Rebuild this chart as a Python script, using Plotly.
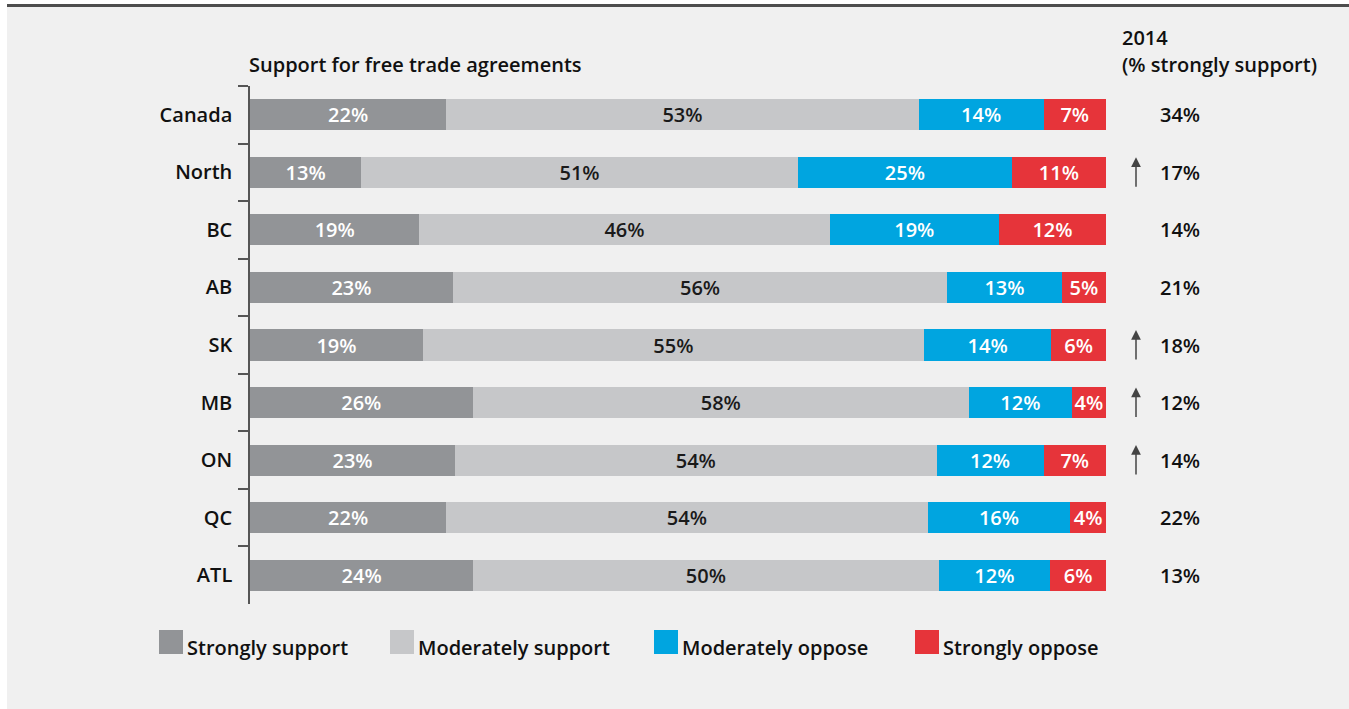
import plotly.graph_objects as go

# ---------------- data ----------------
regions = ["Canada", "North", "BC", "AB", "SK", "MB", "ON", "QC", "ATL"]
series_names = ["Strongly support", "Moderately support", "Moderately oppose", "Strongly oppose"]
strongly_support = [22, 13, 19, 23, 19, 26, 23, 22, 24]
moderately_support = [53, 51, 46, 56, 55, 58, 54, 54, 50]
moderately_oppose = [14, 25, 19, 13, 14, 12, 12, 16, 12]
strongly_oppose = [7, 11, 12, 5, 6, 4, 7, 4, 6]
support_2014 = [34, 17, 14, 21, 18, 12, 14, 22, 13]
arrow_up = [False, True, False, False, True, True, True, False, False]

title_text = "Support for free trade agreements"
header_line1 = "2014"
header_line2 = "(% strongly support)"

# ---------------- style ----------------
W, H = 1349, 709
PL, PR, PT, PB = 250, 1106, 86, 604  # plot area in pixels
colors = ["#929497", "#c6c7c9", "#00a5e0", "#e6343a"]
text_colors = ["#ffffff", "#1a1a1a", "#ffffff", "#ffffff"]
FONT = "Open Sans"
FS = 20
BAR_FS = 20


def xp(px):
    return (px - PL) / (PR - PL)


def yp(py):
    return (PB - py) / (PB - PT)


fig = go.Figure()
all_series = [strongly_support, moderately_support, moderately_oppose, strongly_oppose]
for name, vals, col, tcol in zip(series_names, all_series, colors, text_colors):
    fig.add_trace(go.Bar(
        y=regions, x=vals, orientation="h", name=name,
        marker=dict(color=col, line=dict(width=0)),
        text=[f"{v}%" for v in vals],
        textposition="inside", insidetextanchor="middle", textangle=0,
        textfont=dict(family=FONT, size=BAR_FS, color=tcol, weight=600),
        hoverinfo="skip", showlegend=False,
    ))

shapes = []
annotations = []

# background panel and top rule
shapes.append(dict(type="rect", xref="paper", yref="paper",
                   x0=xp(7), x1=xp(W + 2), y0=yp(H + 2), y1=yp(5),
                   fillcolor="#f0f0f0", line=dict(width=0), layer="below"))
shapes.append(dict(type="line", xref="paper", yref="paper",
                   x0=xp(7), x1=xp(W + 2), y0=yp(5.5), y1=yp(5.5),
                   line=dict(color="#4d4d4d", width=3), layer="below"))

# title
annotations.append(dict(xref="paper", yref="paper", x=xp(247), y=yp(64),
                        xanchor="left", yanchor="middle", showarrow=False,
                        text=title_text, font=dict(family=FONT, size=FS, color="#111", weight=600)))
# right header
annotations.append(dict(xref="paper", yref="paper", x=xp(1120), y=yp(38),
                        xanchor="left", yanchor="middle", showarrow=False,
                        text=header_line1, font=dict(family=FONT, size=FS, color="#111", weight=600)))
annotations.append(dict(xref="paper", yref="paper", x=xp(1120), y=yp(64),
                        xanchor="left", yanchor="middle", showarrow=False,
                        text=header_line2, font=dict(family=FONT, size=FS, color="#111", weight=600)))

# right column values and arrows
for r, v, up in zip(regions, support_2014, arrow_up):
    annotations.append(dict(xref="paper", yref="y", x=xp(1158), y=r,
                            xanchor="left", yanchor="middle", showarrow=False,
                            text=f"{v}%", font=dict(family=FONT, size=FS, color="#111", weight=600)))
    if up:
        annotations.append(dict(xref="paper", yref="y", x=xp(1136), y=r,
                                text="", showarrow=True, ax=0, ay=31, yshift=15,
                                arrowhead=2, arrowsize=1.3, arrowwidth=1.5,
                                arrowcolor="#444", standoff=0, startstandoff=0))

# custom legend
legend_x = [159, 390, 654, 915]
for name, col, lx in zip(series_names, colors, legend_x):
    shapes.append(dict(type="rect", xref="paper", yref="paper",
                       x0=xp(lx), x1=xp(lx + 24), y0=yp(654), y1=yp(630),
                       fillcolor=col, line=dict(width=0)))
    annotations.append(dict(xref="paper", yref="paper", x=xp(lx + 26), y=yp(647),
                            xanchor="left", yanchor="middle", showarrow=False,
                            text=name, font=dict(family=FONT, size=FS, color="#111", weight=600)))

fig.update_layout(
    width=W, height=H,
    margin=dict(l=PL, r=W - PR, t=PT, b=H - PB, pad=0),
    paper_bgcolor="#ffffff", plot_bgcolor="rgba(0,0,0,0)",
    barmode="stack", barnorm="percent", bargap=0.46,
    uniformtext=dict(minsize=BAR_FS, mode="show"),
    showlegend=False,
    xaxis=dict(range=[0, 100], visible=False, fixedrange=True),
    yaxis=dict(categoryorder="array", categoryarray=regions, autorange="reversed",
               showline=True, linecolor="#555", linewidth=1.5,
               ticks="outside", tickson="boundaries", ticklen=10, tickcolor="#555", tickwidth=1.5,
               showgrid=False, zeroline=False, ticklabelstandoff=12,
               tickfont=dict(family=FONT, size=FS, color="#111", weight=600)),
    shapes=shapes, annotations=annotations,
    font=dict(family=FONT),
)

fig.write_html("out.html", config={"displayModeBar": False})
with open("out.html", "r", encoding="utf-8") as f:
    html = f.read()
html = html.replace("<head>", "<head><style>html,body{margin:0;padding:0;overflow:hidden;}</style>", 1)
with open("out.html", "w", encoding="utf-8") as f:
    f.write(html)
